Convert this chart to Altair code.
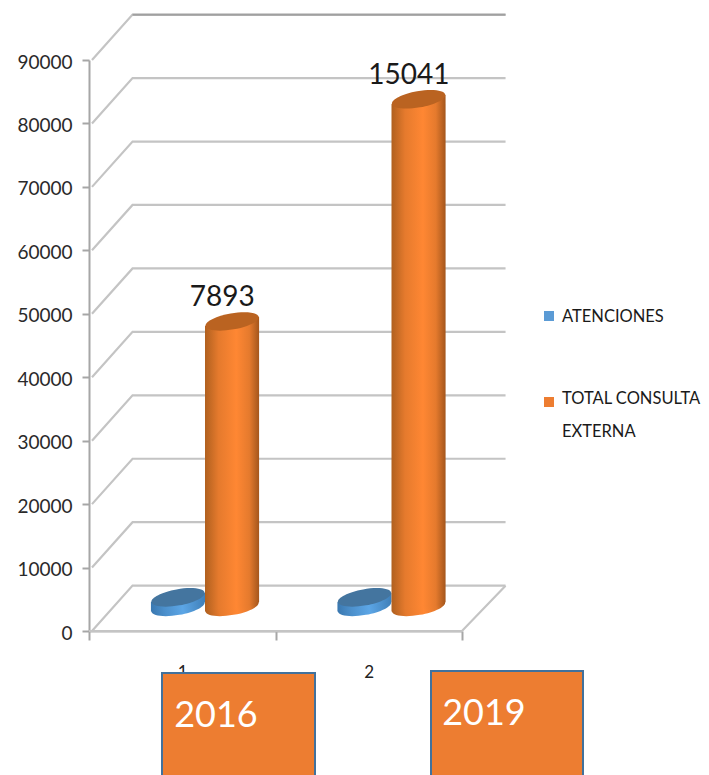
import altair as alt
import pandas as pd

# ---- chart values ----
categories = [1, 2]
atenciones = [1500, 1500]
total_consulta = [45000, 80000]
value_labels = ["7893", "15041"]
y_ticks = [0, 10000, 20000, 30000, 40000, 50000, 60000, 70000, 80000, 90000]
series_names = ["ATENCIONES", "TOTAL CONSULTA"]
legend_rows = ["ATENCIONES", "TOTAL CONSULTA", "EXTERNA"]
box_labels = ["2016", "2019"]

# ---- pseudo-3D geometry, in scale units ----
WALL_DX = 0.2335    # floor depth along x
WALL_DY = 7150      # wall depth along y
BASE_DY = 3800      # where the columns stand on the floor
TILT = 740          # rise of the column ends from centre to side
COL_W = 0.29
COL_OFFSET = {"ATENCIONES": -0.023, "TOTAL CONSULTA": 0.267}
FONT = "Lato"

xs = alt.Scale(domain=[0, 2], nice=False, zero=False, padding=0)
ys = alt.Scale(domain=[0, 90000], nice=False, zero=False, padding=0)
cs = alt.Scale(domain=series_names, range=["#5B9BD5", "#ED7D31"])


def X(f, **k):
    return alt.X(f, type="quantitative", scale=xs, title=None, **k)


def Y(f, **k):
    return alt.Y(f, type="quantitative", scale=ys, title=None, **k)


def grad(edge, soft, mid, edge2):
    return alt.LinearGradient(
        gradient="linear", x1=0, x2=1, y1=0, y2=0,
        stops=[alt.GradientStop(offset=0, color=edge),
               alt.GradientStop(offset=0.25, color=soft),
               alt.GradientStop(offset=0.58, color=mid),
               alt.GradientStop(offset=0.82, color=soft),
               alt.GradientStop(offset=1, color=edge2)])


ELLIPSE = ("M-1,0 C-1,-0.166 -0.552,-0.3 0,-0.3 C0.552,-0.3 1,-0.166 1,0 "
           "C1,0.166 0.552,0.3 0,0.3 C-0.552,0.3 -1,0.166 -1,0 Z")
CAP_SIZE = 2916

# walls and floor
rows = []
for v in y_ticks:
    rows += [dict(k=v, o=0, x=0.016, y=v),
             dict(k=v, o=1, x=WALL_DX, y=v + WALL_DY),
             dict(k=v, o=2, x=2 + WALL_DX, y=v + WALL_DY)]
rows += [dict(k=-1, o=0, x=0, y=0), dict(k=-1, o=1, x=2, y=0),
         dict(k=-1, o=2, x=2 + WALL_DX, y=WALL_DY)]
walls = alt.Chart(pd.DataFrame(rows)).mark_line(
    color="#C4C4C4", strokeWidth=2.2).encode(
    x=X("x", axis=alt.Axis(
        values=[0, 0.5, 1, 1.5, 2], grid=False, domain=True,
        domainColor="#B0B0B0", domainWidth=2,
        tickColor="#A6A6A6", tickWidth=2, tickSize=9,
        tickOpacity={"condition": {"test": "datum.value % 1 == 0", "value": 1}, "value": 0},
        labelExpr="datum.value == 0.5 ? '1' : datum.value == 1.5 ? '2' : ''",
        labelFont=FONT, labelFontSize=17, labelColor="#222222", labelPadding=24,
        labelAngle=0)),
    y=Y("y", axis=alt.Axis(
        values=y_ticks, grid=False, domain=True,
        domainColor="#A6A6A6", domainWidth=2,
        tickColor="#A6A6A6", tickWidth=2, tickSize=7,
        format="d", labelFont=FONT, labelFontSize=19, labelColor="#2A2A2A",
        labelPadding=10, labelOffset=2)),
    detail="k:N", order="o:Q")

top_wall = alt.Chart(pd.DataFrame([dict(x=WALL_DX, y=90000 + WALL_DY, x2=2 + WALL_DX)])).mark_rule(
    color="#A0A0A0", strokeWidth=2).encode(x=X("x"), x2="x2", y=Y("y"))

# columns
cols = []
for name, vals in zip(series_names, [atenciones, total_consulta]):
    for c, v in zip(categories, vals):
        cx = c - 1 + 0.5 + COL_OFFSET[name]
        cols.append(dict(series=name, group=c, cx=cx, base=BASE_DY, top=BASE_DY + v))
cdf = pd.DataFrame(cols)

side_rows = []
for col in cols:
    for sgn in (-1, 1):
        side_rows.append(dict(series=col["series"], group=col["group"],
                              sx=col["cx"] + sgn * COL_W / 2,
                              sb=col["base"] + sgn * TILT, st=col["top"] + sgn * TILT))
sdf = pd.DataFrame(side_rows)

col_layers = []
style = {
    "ATENCIONES": (grad("#3A78B0", "#4C90CC", "#5CA6E6", "#3F7FB8"), "#44759F"),
    "TOTAL CONSULTA": (grad("#B0601F", "#E57A2D", "#FF8733", "#A4561C"), "#BA6321"),
}
for name in series_names:
    d = cdf[cdf.series == name]
    s = sdf[sdf.series == name]
    side, cap = style[name]
    col_layers += [
        alt.Chart(d).mark_point(shape=ELLIPSE, size=CAP_SIZE, angle=350, filled=True,
                                fill=side, opacity=1, strokeWidth=0).encode(
            x=X("cx"), y=Y("base")),
        alt.Chart(s).mark_area(fill=side, opacity=1).encode(
            x=X("sx"), y=Y("sb"), y2="st", detail="group:N"),
        alt.Chart(d).mark_point(shape=ELLIPSE, size=CAP_SIZE, angle=350, filled=True,
                                fill=cap, opacity=1, strokeWidth=0).encode(
            x=X("cx"), y=Y("top")),
    ]

# value labels above the tall columns
ldf = cdf[cdf.series == "TOTAL CONSULTA"].copy()
ldf["lab"] = value_labels
ldf["lx"] = ldf.cx - 0.052
labels = alt.Chart(ldf).mark_text(font=FONT, fontSize=28, color="#1A1A1A",
                                  baseline="bottom", dy=-9).encode(
    x=X("lx"), y=Y("top"), text="lab:N")

# text boxes under the axis
box_df = pd.DataFrame({"lab": box_labels,
                       "bx": [73, 342], "bx2": [226, 494],
                       "by": [613, 611], "tx": [127, 395], "ty": [656, 654]})
boxes = []
for _, r in box_df.iterrows():
    one = pd.DataFrame([{"lab": r.lab}])
    boxes.append(alt.Chart(one).mark_rect(fill="#ED7D31", stroke="#41719C", strokeWidth=2).encode(
        x=alt.value(int(r.bx)), x2=alt.value(int(r.bx2)),
        y=alt.value(int(r.by)), y2=alt.value(730)))
    boxes.append(alt.Chart(one).mark_text(font=FONT, fontSize=36, color="white", baseline="middle").encode(
        x=alt.value(int(r.tx)), y=alt.value(int(r.ty)), text="lab:N"))

# legend
leg_sym = alt.Chart(pd.DataFrame({"series": series_names, "py": [256, 342]})).mark_square(
    size=100, opacity=1).encode(
    x=alt.value(460), y=alt.Y("py:Q", scale=None),
    color=alt.Color("series:N", scale=cs, legend=None))
leg_txt = alt.Chart(pd.DataFrame({"t": legend_rows, "py": [257, 339, 372]})).mark_text(
    font=FONT, fontSize=16.5, color="#1A1A1A", align="left", baseline="middle").encode(
    x=alt.value(473), y=alt.Y("py:Q", scale=None), text="t:N")

chart = alt.layer(walls, top_wall, *col_layers, labels, *boxes, leg_sym, leg_txt).properties(
    width=373, height=571,
    padding={"left": 81, "top": 52, "right": 239, "bottom": 144},
    autosize=alt.AutoSizeParams(type="none"),
).configure_view(strokeWidth=0)

chart.save("out.html", embed_options={"renderer": "svg", "actions": False})
